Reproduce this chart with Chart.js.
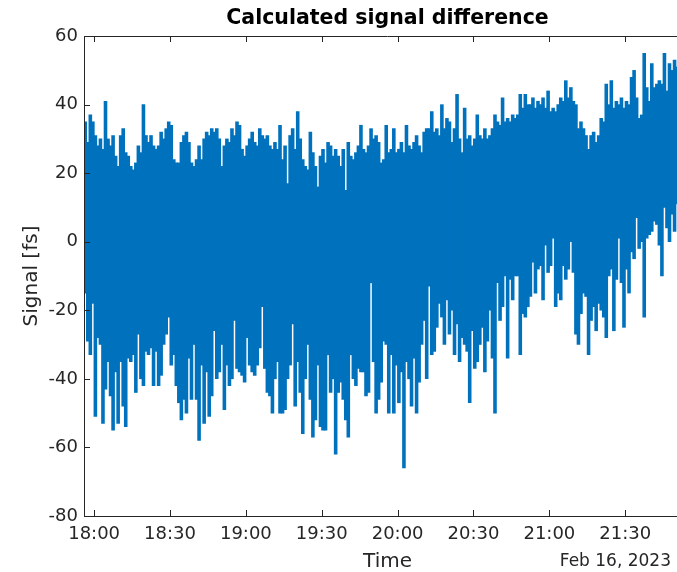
<!DOCTYPE html>
<html>
<head>
<meta charset="utf-8">
<script src="https://cdn.jsdelivr.net/npm/chart.js@4.4.1/dist/chart.umd.min.js"></script>
<style>
  html, body { margin: 0; padding: 0; overflow: hidden; background: #fff; }
  canvas { display: block; }
</style>
</head>
<body>
<canvas id="signalChart" width="700" height="572"></canvas>
<script>
// minutes after 18:00 of the first sample; each minute has the highest and lowest value seen
const firstMinute = -4;

const highs = [
  35, 29, 37, 35, 31, 28, 30, 27, 41, 30,
  28, 31, 25, 22, 31, 33, 26, 25, 22, 21,
  23, 28, 26, 40, 31, 29, 31, 28, 27, 28,
  32, 30, 33, 35, 34, 24, 23, 23, 29, 31,
  32, 29, 23, 22, 24, 28, 24, 30, 32, 31,
  33, 32, 33, 30, 22, 28, 30, 29, 33, 31,
  35, 34, 27, 25, 28, 30, 32, 29, 28, 33,
  31, 30, 31, 28, 27, 29, 27, 34, 24, 28,
  17, 31, 33, 27, 38, 30, 24, 22, 21, 32,
  26, 22, 16, 25, 27, 23, 29, 28, 25, 27,
  25, 22, 27, 15, 29, 25, 24, 26, 28, 34,
  27, 26, 28, 33, 30, 31, 29, 23, 24, 34,
  26, 27, 33, 26, 27, 29, 26, 34, 28, 27,
  29, 31, 28, 26, 32, 33, 33, 38, 32, 33,
  31, 40, 33, 36, 35, 29, 33, 43, 30, 26,
  39, 30, 31, 28, 30, 37, 31, 30, 33, 30,
  31, 33, 37, 35, 34, 42, 35, 36, 35, 37,
  36, 37, 43, 39, 43, 40, 40, 42, 39, 41,
  40, 42, 39, 44, 38, 39, 38, 40, 42, 41,
  47, 42, 45, 41, 40, 33, 35, 33, 31, 27,
  31, 32, 29, 31, 36, 35, 46, 40, 47, 39,
  41, 40, 42, 39, 41, 40, 48, 50, 42, 36,
  37, 55, 45, 41, 52, 45, 46, 47, 46, 55,
  44, 52, 50, 53, 51, 52, 50, 53, 51, 50
];

const lows = [
  -15, -29, -33, -18, -51, -28, -30, -53, -43, -35,
  -45, -55, -38, -53, -35, -48, -54, -34, -35, -33,
  -44, -27, -40, -42, -32, -33, -31, -42, -32, -42,
  -39, -30, -27, -22, -36, -33, -42, -47, -52, -46,
  -50, -34, -46, -30, -46, -58, -36, -53, -38, -51,
  -45, -26, -40, -38, -30, -49, -36, -42, -40, -23,
  -37, -38, -39, -41, -28, -36, -38, -39, -36, -31,
  -19, -37, -44, -45, -50, -40, -35, -50, -50, -49,
  -40, -36, -24, -48, -35, -44, -56, -40, -30, -46,
  -57, -52, -36, -54, -55, -55, -33, -44, -40, -62,
  -44, -41, -46, -52, -57, -33, -40, -42, -37, -38,
  -38, -45, -44, -12, -35, -50, -46, -41, -29, -30,
  -50, -33, -50, -36, -47, -38, -66, -35, -40, -48,
  -34, -50, -41, -30, -23, -40, -13, -33, -32, -25,
  -18, -22, -30, -17, -27, -20, -33, -24, -35, -28,
  -30, -32, -47, -26, -37, -35, -30, -25, -38, -29,
  -20, -34, -50, -12, -23, -19, -10, -34, -11, -17,
  -10, -10, -33, -21, -22, -19, -16, -6, -15, -8,
  -7, -17, -1, -9, -7, 1, -19, -15, -17, -7,
  -11, -8, 0, -9, -27, -30, -21, -15, -16, -33,
  -23, -19, -26, -18, -20, -22, -28, -10, -8, -26,
  -11, 1, -12, -25, -8, -15, -3, -5, 7, -2,
  0, -22, 1, 2, 3, 6, 5, -1, -10, 10,
  4, 0, 8, 3, 11, 13, 10, 12, 11, 13
];

const xTickMinutes = [0, 30, 60, 90, 120, 150, 180, 210];
const xTickLabels = ["18:00", "18:30", "19:00", "19:30", "20:00", "20:30", "21:00", "21:30"];
const yTickValues = [-80, -60, -40, -20, 0, 20, 40, 60];
const dateLabel = "Feb 16, 2023";

const axisColor = "#262626";
const lineBlue = "#0072BD";

// one floating bar per minute, from the lowest to the highest value
const rangePoints = highs.map((h, i) => ({ x: firstMinute + i + 0.5, y: [lows[i], h] }));

// MATLAB style box, inward tick marks and the date under the time axis
const matlabAxes = {
  id: "matlabAxes",
  afterDatasetsDraw(chart) {
    const { ctx, chartArea: a, scales: { x, y } } = chart;
    ctx.save();
    ctx.strokeStyle = axisColor;
    ctx.lineWidth = 1;
    ctx.beginPath();
    ctx.moveTo(a.left, a.top + 0.5);
    ctx.lineTo(a.right, a.top + 0.5);
    ctx.moveTo(a.right - 0.5, a.top);
    ctx.lineTo(a.right - 0.5, a.bottom);
    ctx.moveTo(a.left + 0.5, a.top);
    ctx.lineTo(a.left + 0.5, a.bottom);
    xTickMinutes.forEach(m => {
      const px = Math.round(x.getPixelForValue(m)) + 0.5;
      ctx.moveTo(px, a.bottom);
      ctx.lineTo(px, a.bottom - 6);
      ctx.moveTo(px, a.top);
      ctx.lineTo(px, a.top + 6);
    });
    yTickValues.forEach(v => {
      const py = Math.round(y.getPixelForValue(v)) + 0.5;
      ctx.moveTo(a.left, py);
      ctx.lineTo(a.left + 6, py);
      ctx.moveTo(a.right, py);
      ctx.lineTo(a.right - 6, py);
    });
    ctx.stroke();

    ctx.fillStyle = axisColor;
    ctx.font = "17px 'DejaVu Sans'";
    ctx.textAlign = "right";
    ctx.textBaseline = "middle";
    ctx.fillText(dateLabel, a.right - 20, 562);
    ctx.restore();
  }
};

new Chart(document.getElementById("signalChart"), {
  type: "bar",
  data: {
    datasets: [{
      label: "Signal",
      data: rangePoints,
      backgroundColor: lineBlue,
      borderColor: lineBlue,
      borderWidth: 0,
      borderSkipped: false,
      // over a pixel wider than one minute so neighbouring bars overlap without seams
      barThickness: 3.1,
      inflateAmount: 0.25
    }]
  },
  options: {
    responsive: false,
    animation: false,
    devicePixelRatio: 1,
    layout: { padding: { left: 0, right: 9, top: 0, bottom: 0 } },
    plugins: {
      legend: { display: false },
      tooltip: { enabled: false },
      title: {
        display: true,
        text: "Calculated signal difference",
        fullSize: false,
        color: "#000",
        font: { family: "'DejaVu Sans'", size: 20.5, weight: "bold", lineHeight: 1.2 },
        padding: { top: 6, bottom: 5.4 }
      }
    },
    scales: {
      x: {
        type: "linear",
        min: -4,
        max: 236,
        offset: false,
        afterBuildTicks: s => { s.ticks = xTickMinutes.map(v => ({ value: v })); },
        afterFit: s => { s.height = 56; },
        grid: { display: false, drawTicks: false, offset: false },
        border: { display: true, color: axisColor, width: 1 },
        ticks: {
          color: axisColor,
          padding: 8,
          maxRotation: 0,
          autoSkip: false,
          font: { family: "'DejaVu Sans'", size: 18 },
          callback: v => xTickLabels[xTickMinutes.indexOf(v)]
        },
        title: {
          display: true,
          text: "Time",
          color: axisColor,
          font: { family: "'DejaVu Sans'", size: 20, lineHeight: 1 },
          padding: { top: 0, bottom: 0 }
        }
      },
      y: {
        min: -80,
        max: 60,
        afterBuildTicks: s => { s.ticks = yTickValues.map(v => ({ value: v })); },
        afterFit: s => { s.width = 84; },
        grid: { display: false, drawTicks: false },
        border: { display: true, color: axisColor, width: 1 },
        ticks: {
          color: axisColor,
          padding: 6,
          font: { family: "'DejaVu Sans'", size: 18 }
        },
        title: {
          display: true,
          text: "Signal [fs]",
          color: axisColor,
          font: { family: "'DejaVu Sans'", size: 20, lineHeight: 1 },
          padding: { top: 22, bottom: 0 }
        }
      }
    }
  },
  plugins: [matlabAxes]
});
</script>
</body>
</html>
